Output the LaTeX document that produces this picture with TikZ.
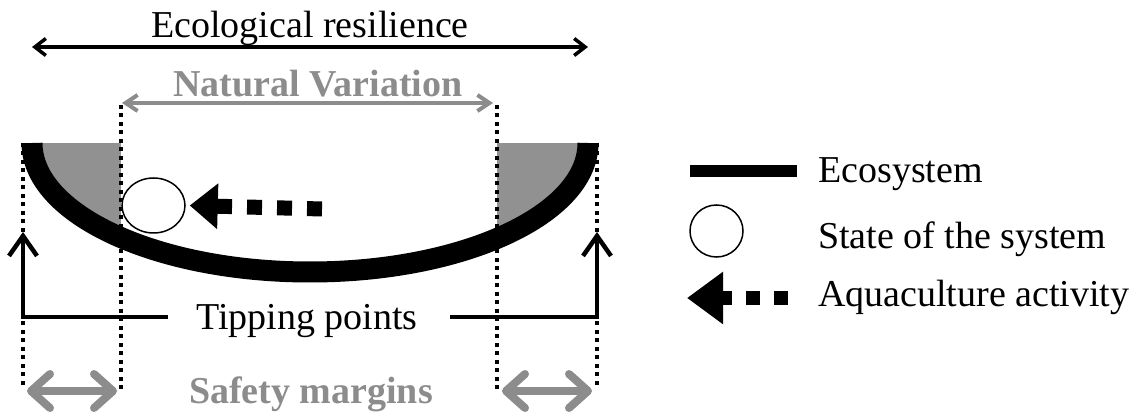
\documentclass[tikz,border=0pt]{standalone}
\usepackage{fontspec}
\setmainfont{Liberation Serif}
\usetikzlibrary{positioning,arrows.meta,shapes.geometric}
\definecolor{midgray}{gray}{0.55}
\definecolor{fillgray}{gray}{0.57}

\begin{document}
\begin{tikzpicture}[x=1pt,y=-1pt,
  lbl/.style={font=\fontsize{38}{40}\selectfont,inner sep=0pt,anchor=base},
  glbl/.style={lbl,font=\fontsize{38}{40}\selectfont\bfseries,text=midgray},
  dotline/.style={line width=4pt,dash pattern=on 4pt off 4.5pt},
  erange/.style={line width=3.5pt,{Straight Barb[length=11pt,width=17pt]}-{Straight Barb[length=11pt,width=17pt]}},
  grange/.style={midgray,line width=4pt,{Straight Barb[length=12pt,width=16pt]}-{Straight Barb[length=12pt,width=16pt]}},
  safearrow/.style={midgray,line width=8pt,{Straight Barb[round,length=19pt,width=34pt]}-{Straight Barb[round,length=19pt,width=34pt]}},
  tipline/.style={line width=3.5pt,-{Straight Barb[length=20pt,width=28pt,line width=4.5pt]}},
  stateball/.style={draw,ellipse,fill=white,line width=1.5pt,inner sep=0pt},
  aqua/.style={line width=#1,dash pattern=on #1 off #1}
]
\useasboundingbox (0,0) rectangle (1143,419);

% shaded parts of the bowl
\begin{scope}
  \clip (32,143) arc[start angle=180,end angle=0,x radius=278,y radius=129] -- cycle;
  \fill[fillgray] (0,143) rectangle (121,300);
  \fill[fillgray] (497,143) rectangle (620,300);
\end{scope}

% dotted limits
\draw[dotline] (23,143) -- (23,388);
\draw[dotline] (597,143) -- (597,388);
\draw[dotline] (121,105) -- (121,391);
\draw[dotline] (497,105) -- (497,391);

% ecosystem
\draw[line width=21pt] (32,143) arc[start angle=180,end angle=0,x radius=278,y radius=129];

% labels and ranges
\node[lbl] (er) at (310,38) {Ecological resilience};
\coordinate (erl) at (32,47);
\coordinate (err) at (588,47);
\draw[erange] (erl) -- (err);

\node[glbl] (nv) at (318,97) {Natural Variation};
\coordinate (nvl) at (122,103);
\coordinate (nvr) at (493,103);
\draw[grange] (nvl) -- (nvr);

\node[lbl] (tp) at (307,330) {Tipping points};
\coordinate (tpl) at (168,317);
\coordinate (tpr) at (450,317);
\coordinate (tl) at (23,232);
\coordinate (tr) at (597,232);
\draw[tipline] (tpl) -| (tl);
\draw[tipline] (tpr) -| (tr);

\node[glbl] (sm) at (311,403) {Safety margins};
\coordinate (sml1) at (27,391);
\coordinate (sml2) at (117,391);
\coordinate (smr1) at (502,391);
\coordinate (smr2) at (592,391);
\draw[safearrow] (sml1) -- (sml2);
\draw[safearrow] (smr1) -- (smr2);

% state and pressure
\node[stateball,minimum width=63pt,minimum height=55pt] (st) at (153.5,205.5) {};
\coordinate (aqs) at (322,209);
\draw[aqua=15pt,-{Triangle[length=28pt,width=44pt]}] (aqs) -- ([xshift=4pt]st.east);

% legend
\coordinate (eco1) at (690,171);
\coordinate (eco2) at (797,171);
\draw[line width=12pt] (eco1) -- (eco2);
\node[lbl,anchor=base west] (leco) at (818,183) {Ecosystem};

\node[stateball,minimum width=53pt,minimum height=52pt] (lst) at (716.5,231) {};
\node[lbl,anchor=base west] (lstate) at (818,249) {State of the system};

\coordinate (aq1) at (788,298);
\coordinate (aq2) at (687,298);
\draw[aqua=14pt,-{Triangle[length=36pt,width=50pt]}] (aq1) -- (aq2);
\node[lbl,anchor=base west] (laqua) at (818,307) {Aquaculture activity};
\end{tikzpicture}
\end{document}
